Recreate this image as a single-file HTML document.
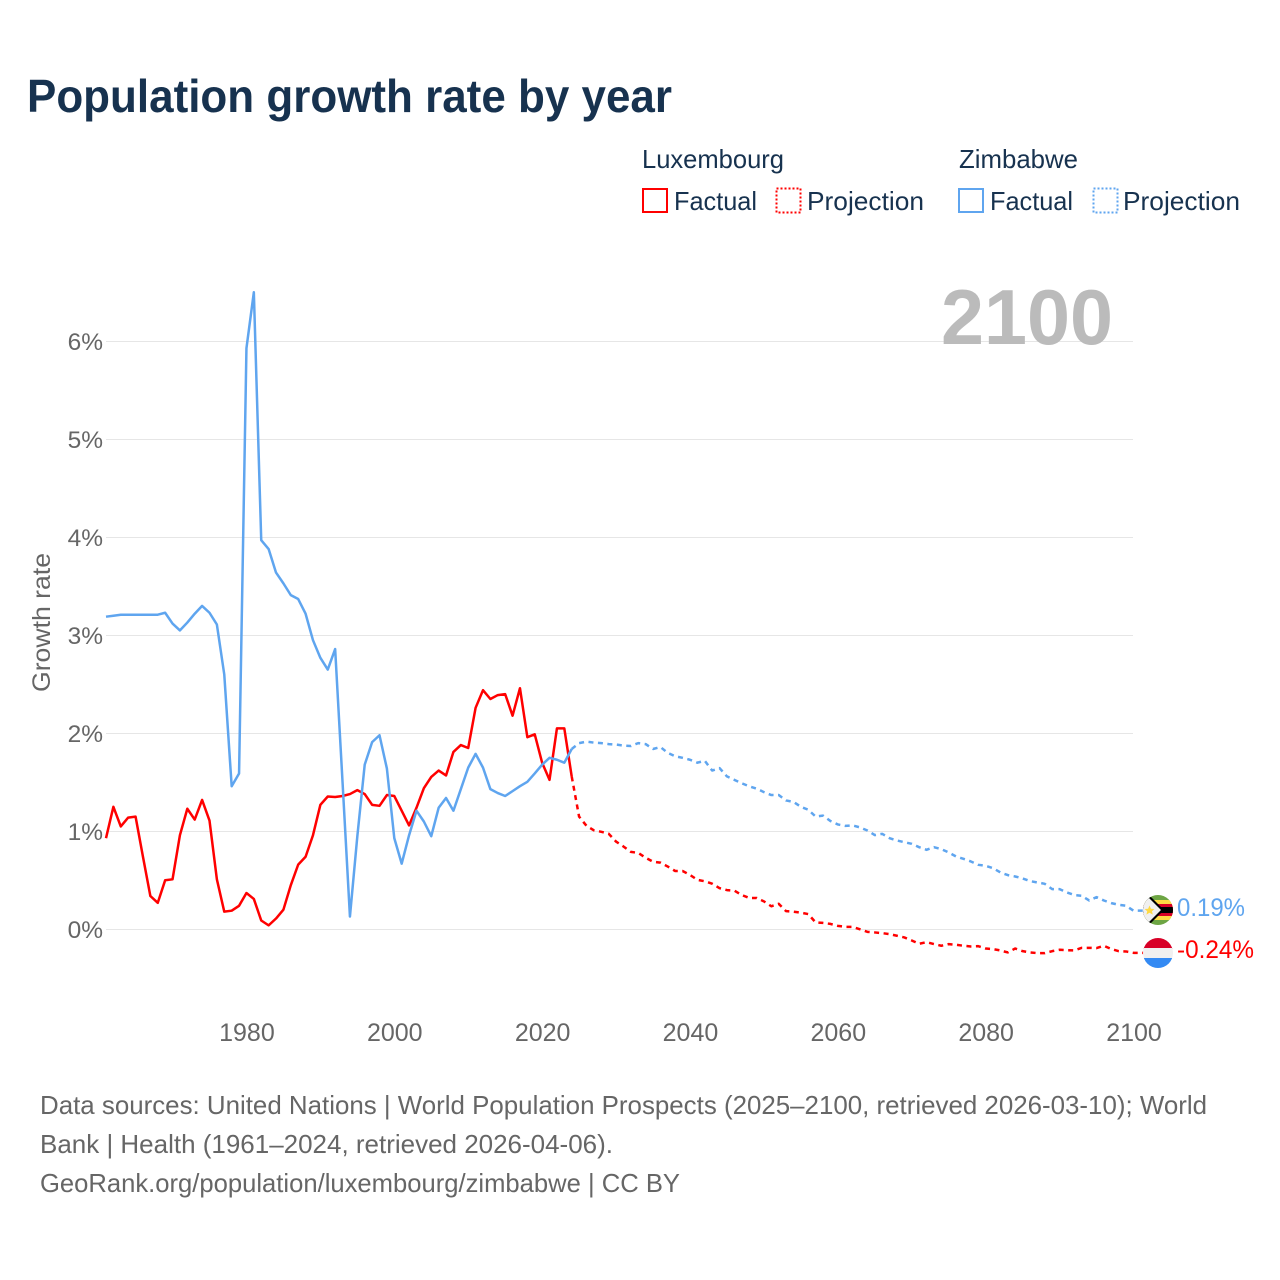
<!DOCTYPE html>
<html lang="en">
<head>
<meta charset="utf-8">
<title>Population growth rate by year</title>
<style>
html,body{margin:0;padding:0;background:#fff;width:1280px;height:1280px;overflow:hidden}
svg{display:block;font-family:"Liberation Sans",sans-serif}
</style>
</head>
<body>
<svg id="chart" xmlns="http://www.w3.org/2000/svg" width="1280" height="1280" viewBox="0 0 1280 1280">
  <defs>
    <clipPath id="flag-clip-zw"><circle cx="1158" cy="910" r="15"/></clipPath>
    <clipPath id="flag-clip-lu"><circle cx="1158" cy="953" r="15"/></clipPath>
  </defs>
  <rect width="1280" height="1280" fill="#fff"/>
  <text x="27" y="112" font-size="46" font-weight="700" fill="#17324f" textLength="645" lengthAdjust="spacingAndGlyphs">Population growth rate by year</text>

  <g font-size="26" fill="#17324f">
    <text x="642" y="168" textLength="142" lengthAdjust="spacingAndGlyphs">Luxembourg</text>
    <text x="959" y="168" textLength="119" lengthAdjust="spacingAndGlyphs">Zimbabwe</text>
    <rect x="643" y="189" width="24" height="23" fill="none" stroke="#ff0000" stroke-width="2"/>
    <text x="674" y="210" textLength="83" lengthAdjust="spacingAndGlyphs">Factual</text>
    <rect x="776.5" y="188.5" width="24" height="24" fill="none" stroke="#ff0000" stroke-width="2" stroke-dasharray="2 2"/>
    <text x="807" y="210" textLength="117" lengthAdjust="spacingAndGlyphs">Projection</text>
    <rect x="959" y="189" width="24" height="23" fill="none" stroke="#5fa5ef" stroke-width="2"/>
    <text x="990" y="210" textLength="83" lengthAdjust="spacingAndGlyphs">Factual</text>
    <rect x="1093.5" y="188.5" width="24" height="24" fill="none" stroke="#5fa5ef" stroke-width="2" stroke-dasharray="2 2"/>
    <text x="1123" y="210" textLength="117" lengthAdjust="spacingAndGlyphs">Projection</text>
  </g>

  <g id="grid"></g>
  <g id="y-ticks"></g>
  <g id="x-ticks"></g>

  <text x="0" y="0" transform="translate(50,622.5) rotate(-90)" text-anchor="middle" font-size="25" fill="#666" textLength="139" lengthAdjust="spacingAndGlyphs">Growth rate</text>

  <text x="941" y="344" font-size="78" font-weight="700" fill="#bbbbbb" textLength="172" lengthAdjust="spacingAndGlyphs">2100</text>

  <g id="series"></g>

  <g clip-path="url(#flag-clip-zw)">
    <rect x="1143" y="895" width="30" height="30" fill="#6da544"/>
    <rect x="1143" y="900" width="30" height="20" fill="#ffda44"/>
    <rect x="1143" y="904" width="30" height="12" fill="#d80027"/>
    <rect x="1143" y="907" width="30" height="6" fill="#000"/>
    <polygon points="1143,895 1149,895 1164,910 1149,925 1143,925" fill="#000"/>
    <polygon points="1143,896 1147,896 1161,910 1147,924 1143,924" fill="#f0f0f0"/>
    <polygon points="1149.5,905.5 1151,908.7 1154.5,909 1152,911.2 1152.8,914.6 1149.5,912.8 1146.4,914.6 1147.2,911.2 1144.6,909 1148.1,908.7" fill="#ffda44"/>
  </g>
  <g clip-path="url(#flag-clip-lu)">
    <rect x="1143" y="938" width="30" height="11" fill="#d80027"/>
    <rect x="1143" y="948" width="30" height="11" fill="#f0f0f0"/>
    <rect x="1143" y="958" width="30" height="11" fill="#338af3"/>
  </g>
  <text x="1177" y="916" font-size="25" fill="#5fa5ef" textLength="68" lengthAdjust="spacingAndGlyphs">0.19%</text>
  <text x="1177" y="958" font-size="25" fill="#ff0000" textLength="77" lengthAdjust="spacingAndGlyphs">-0.24%</text>

  <g font-size="26" fill="#666">
    <text x="40" y="1114" textLength="1167" lengthAdjust="spacingAndGlyphs">Data sources: United Nations | World Population Prospects (2025–2100, retrieved 2026-03-10); World</text>
    <text x="40" y="1153" textLength="573" lengthAdjust="spacingAndGlyphs">Bank | Health (1961–2024, retrieved 2026-04-06).</text>
    <text x="40" y="1192" textLength="640" lengthAdjust="spacingAndGlyphs">GeoRank.org/population/luxembourg/zimbabwe | CC BY</text>
  </g>
</svg>
<script>
var factualStartYear = 1961;
var projectionStartYear = 2024;
var yTickValues = [0, 1, 2, 3, 4, 5, 6];
var yTickLabels = ["0%", "1%", "2%", "3%", "4%", "5%", "6%"];
var xTickValues = [1980, 2000, 2020, 2040, 2060, 2080, 2100];
var xTickLabels = ["1980", "2000", "2020", "2040", "2060", "2080", "2100"];

var luxembourgFactual = [
  0.93, 1.25, 1.05, 1.14, 1.15, 0.74, 0.34, 0.27, 0.50, 0.51,
  0.96, 1.23, 1.12, 1.32, 1.11, 0.51, 0.18, 0.19, 0.24, 0.37,
  0.31, 0.09, 0.04, 0.11, 0.20, 0.45, 0.66, 0.74, 0.96, 1.27,
  1.355, 1.35, 1.36, 1.38, 1.42, 1.38, 1.27, 1.26, 1.37, 1.36,
  1.21, 1.06, 1.24, 1.44, 1.555, 1.62, 1.57, 1.81, 1.88, 1.85,
  2.26, 2.44, 2.35, 2.39, 2.40, 2.18, 2.46, 1.96, 1.99, 1.70,
  1.525, 2.05, 2.05, 1.56
];
var zimbabweFactual = [
  3.19, 3.20, 3.21, 3.21, 3.21, 3.21, 3.21, 3.21, 3.23, 3.12,
  3.05, 3.13, 3.22, 3.30, 3.23, 3.11, 2.60, 1.46, 1.59, 5.93,
  6.50, 3.97, 3.88, 3.64, 3.53, 3.41, 3.37, 3.22, 2.95, 2.77,
  2.65, 2.86, 1.50, 0.13, 0.95, 1.68, 1.91, 1.98, 1.64, 0.93,
  0.67, 0.96, 1.21, 1.10, 0.95, 1.24, 1.34, 1.21, 1.43, 1.65,
  1.79, 1.65, 1.43, 1.39, 1.36, 1.41, 1.46, 1.505, 1.59, 1.68,
  1.75, 1.73, 1.70, 1.84
];
var luxembourgProjection = [
  1.56, 1.15, 1.056, 1.01, 0.995, 0.975, 0.895, 0.845, 0.79, 0.78,
  0.73, 0.69, 0.68, 0.64, 0.595, 0.595, 0.555, 0.505, 0.49, 0.465,
  0.42, 0.40, 0.395, 0.35, 0.32, 0.32, 0.285, 0.235, 0.26, 0.185,
  0.18, 0.17, 0.155, 0.07, 0.065, 0.055, 0.035, 0.025, 0.025, 0.0,
  -0.026, -0.032, -0.039, -0.049, -0.066, -0.083, -0.114, -0.148, -0.131, -0.151,
  -0.168, -0.151, -0.158, -0.168, -0.175, -0.172, -0.196, -0.202, -0.216, -0.236,
  -0.196, -0.223, -0.236, -0.243, -0.243, -0.223, -0.209, -0.213, -0.216, -0.189,
  -0.189, -0.192, -0.168, -0.202, -0.223, -0.226, -0.24
];
var zimbabweProjection = [
  1.84, 1.90, 1.915, 1.905, 1.90, 1.89, 1.885, 1.875, 1.87, 1.90,
  1.89, 1.84, 1.86, 1.80, 1.765, 1.75, 1.73, 1.70, 1.72, 1.62,
  1.645, 1.56, 1.525, 1.49, 1.46, 1.435, 1.40, 1.37, 1.37, 1.315,
  1.30, 1.25, 1.22, 1.15, 1.16, 1.105, 1.07, 1.055, 1.06, 1.04,
  1.008, 0.961, 0.974, 0.930, 0.906, 0.889, 0.872, 0.838, 0.811, 0.838,
  0.818, 0.784, 0.743, 0.719, 0.692, 0.658, 0.648, 0.624, 0.580, 0.553,
  0.539, 0.519, 0.492, 0.478, 0.464, 0.410, 0.410, 0.376, 0.349, 0.342,
  0.294, 0.328, 0.294, 0.267, 0.250, 0.240, 0.19
];

var SVG_NS = "http://www.w3.org/2000/svg";
function xScale(year) { return 106 + (year - 1961) * (1133.5 - 106) / (2100 - 1961); }
function yScale(value) { return 929.3 - value * 98; }

function linePath(values, startYear) {
  var d = "";
  for (var i = 0; i < values.length; i++) {
    d += (i ? "L" : "M") + xScale(startYear + i).toFixed(2) + " " + yScale(values[i]).toFixed(2);
  }
  return d;
}

var gridGroup = document.getElementById("grid");
var yTickGroup = document.getElementById("y-ticks");
var xTickGroup = document.getElementById("x-ticks");
var seriesGroup = document.getElementById("series");

yTickValues.forEach(function (v, i) {
  var gy = Math.floor(yScale(v)) + 0.5;
  var line = document.createElementNS(SVG_NS, "line");
  line.setAttribute("x1", 106);
  line.setAttribute("x2", 1133);
  line.setAttribute("y1", gy);
  line.setAttribute("y2", gy);
  line.setAttribute("stroke", "#e6e6e6");
  line.setAttribute("stroke-width", "1");
  
  
  gridGroup.appendChild(line);

  var label = document.createElementNS(SVG_NS, "text");
  label.setAttribute("x", 103);
  label.setAttribute("y", yScale(v) + 8.7);
  label.setAttribute("text-anchor", "end");
  label.setAttribute("font-size", "24.5");
  label.setAttribute("fill", "#666");
  label.textContent = yTickLabels[i];
  
  
  yTickGroup.appendChild(label);
});

xTickValues.forEach(function (v, i) {
  var label = document.createElementNS(SVG_NS, "text");
  label.setAttribute("x", xScale(v) + 0.5);
  label.setAttribute("y", 1041);
  label.setAttribute("text-anchor", "middle");
  label.setAttribute("font-size", "25");
  label.setAttribute("fill", "#666");
  label.textContent = xTickLabels[i];
  
  
  xTickGroup.appendChild(label);
});

function addDashed(values, color) {
  var path = document.createElementNS(SVG_NS, "path");
  var last = values[values.length - 1];
  path.setAttribute("d", linePath(values, projectionStartYear) + "L1158 " + yScale(last).toFixed(2));
  path.setAttribute("fill", "none");
  path.setAttribute("stroke", color);
  path.setAttribute("stroke-width", "2.5");
  path.setAttribute("stroke-dasharray", "5 4.5");
  path.setAttribute("stroke-linejoin", "round");
  return path;
}
function addSolid(values, color) {
  var path = document.createElementNS(SVG_NS, "path");
  path.setAttribute("d", linePath(values, factualStartYear));
  path.setAttribute("fill", "none");
  path.setAttribute("stroke", color);
  path.setAttribute("stroke-width", "2.5");
  path.setAttribute("stroke-linejoin", "round");
  return path;
}

var lineLuProjection = addDashed(luxembourgProjection, "#ff0000");


seriesGroup.appendChild(lineLuProjection);

var lineLuFactual = addSolid(luxembourgFactual, "#ff0000");


seriesGroup.appendChild(lineLuFactual);

var lineZwProjection = addDashed(zimbabweProjection, "#5fa5ef");


seriesGroup.appendChild(lineZwProjection);

var lineZwFactual = addSolid(zimbabweFactual, "#5fa5ef");


seriesGroup.appendChild(lineZwFactual);
</script>
</body>
</html>
